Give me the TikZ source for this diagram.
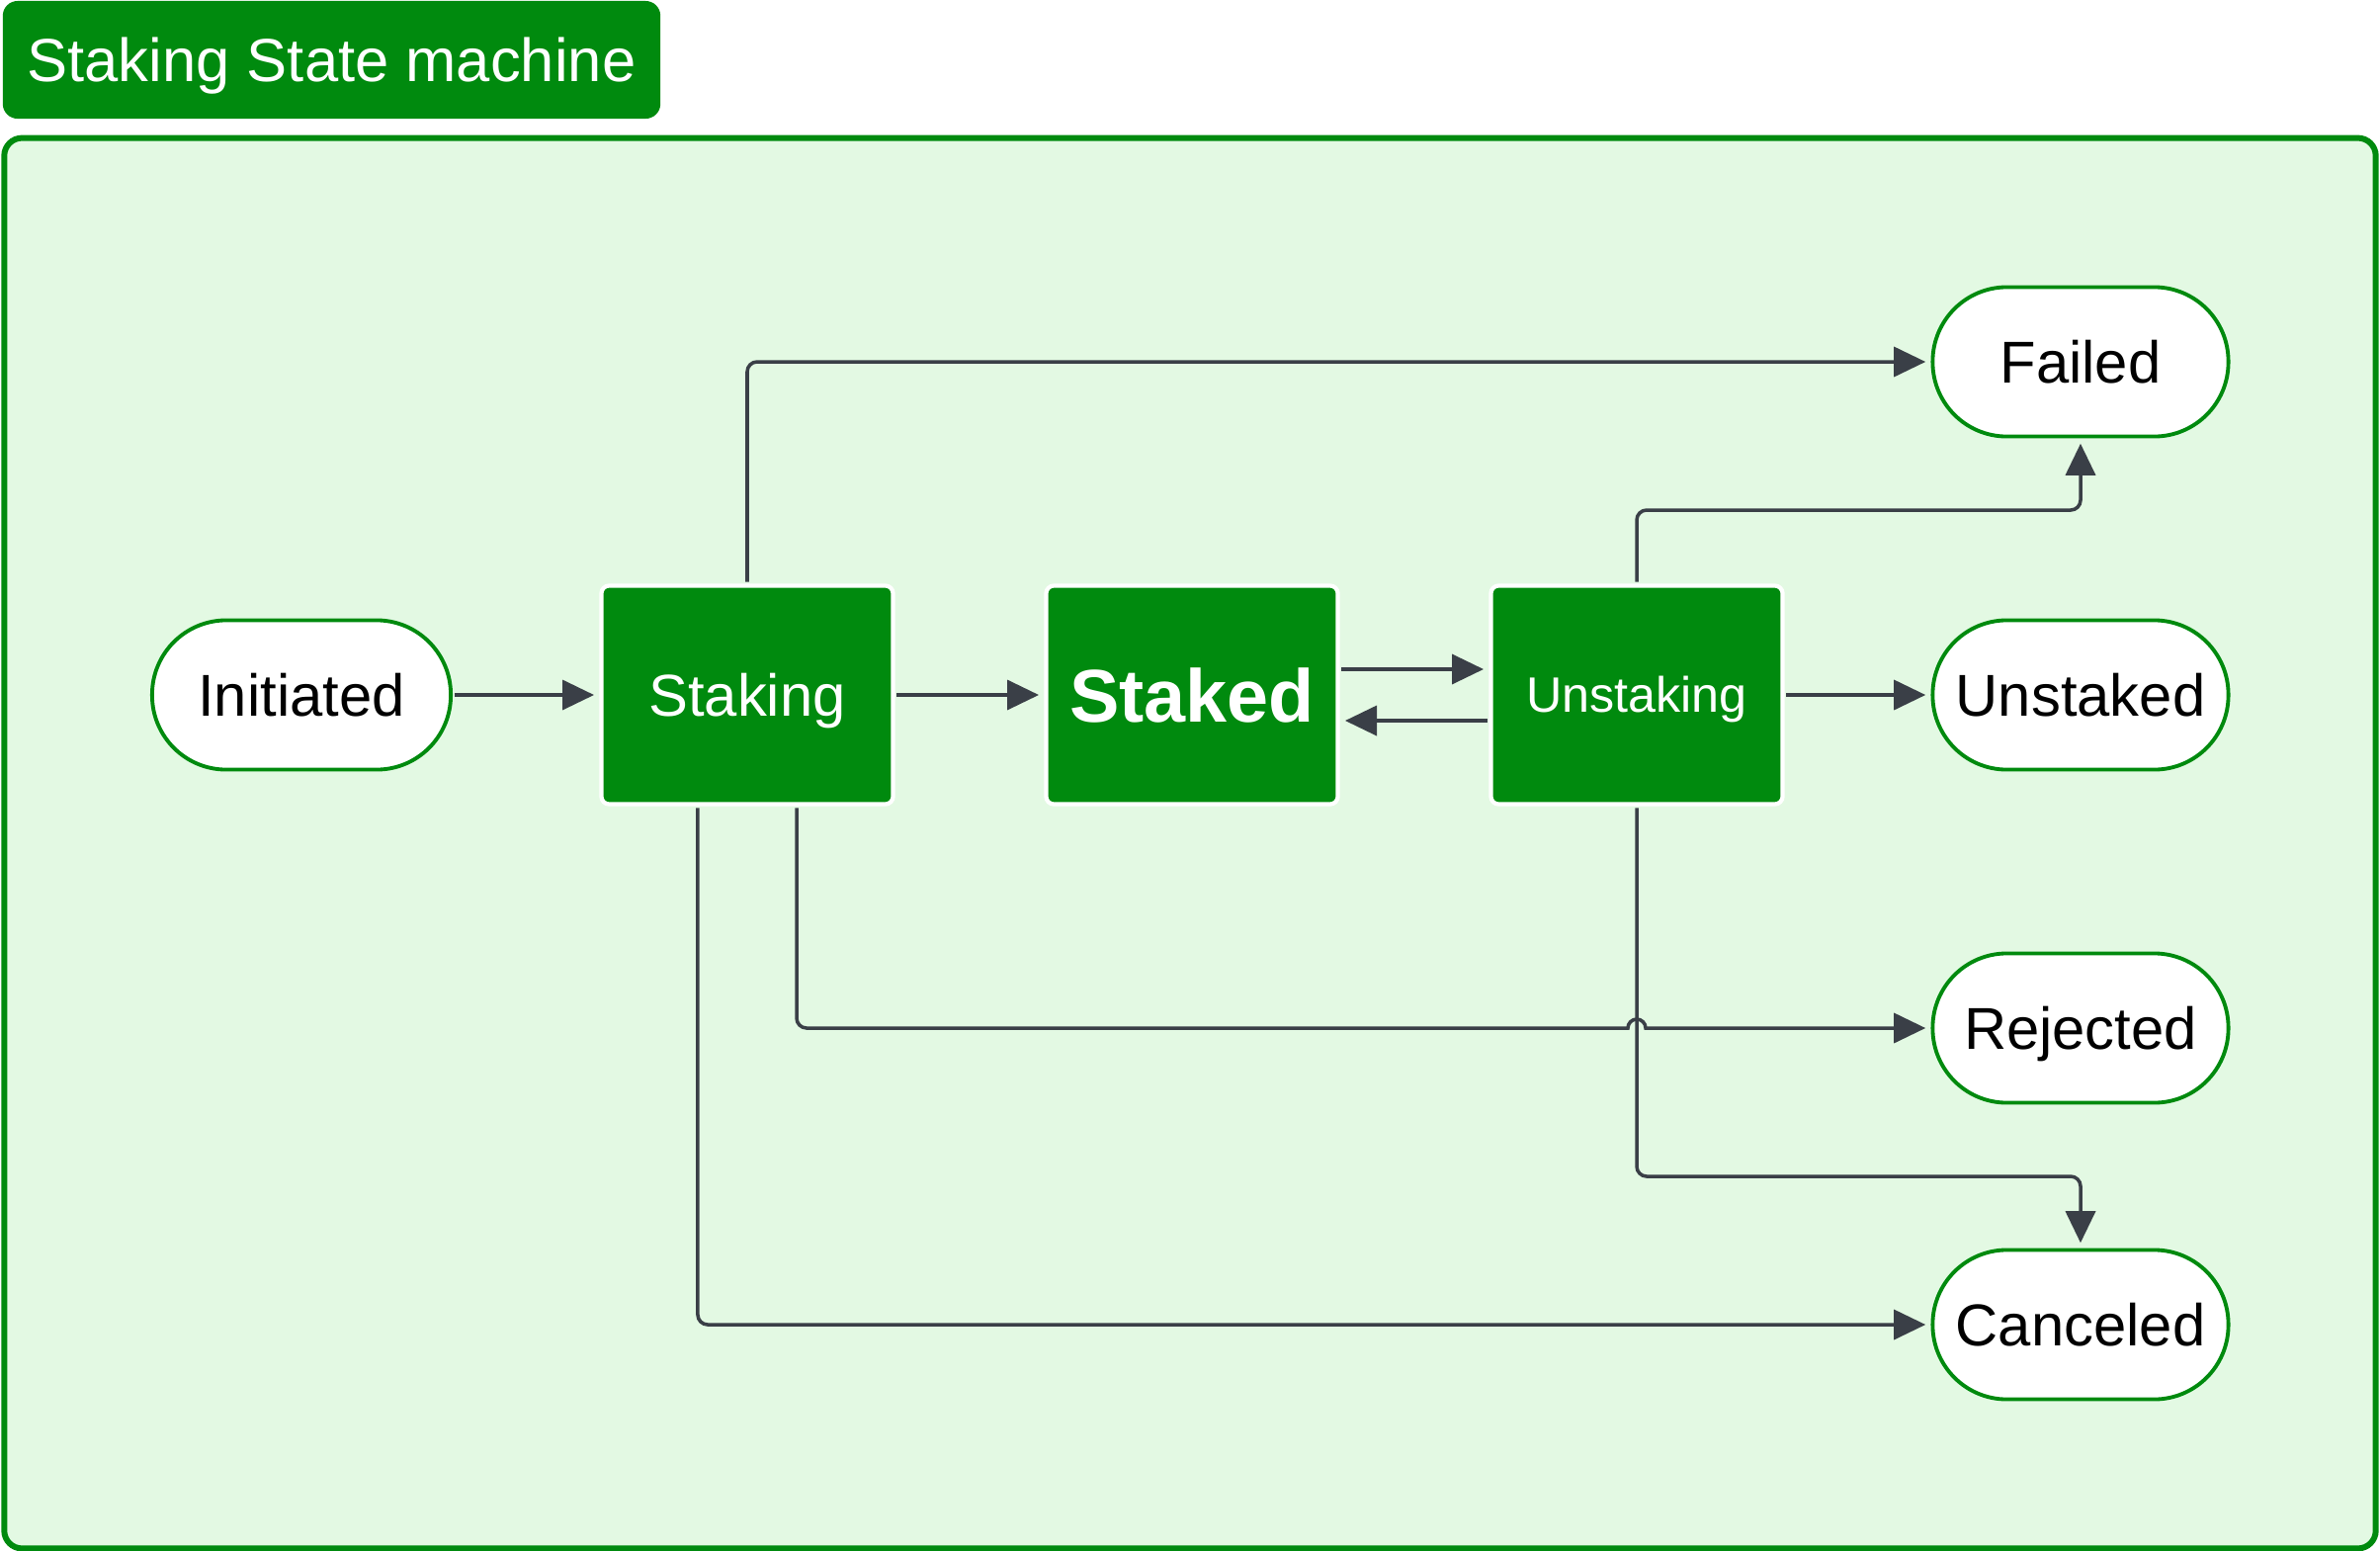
\documentclass[tikz,border=0pt]{standalone}
\usepackage{fontspec}
\setmainfont{Liberation Sans}
\usetikzlibrary{arrows.meta}
\definecolor{sgreen}{HTML}{008A0E}
\definecolor{sbg}{HTML}{E3F9E3}
\definecolor{sedge}{HTML}{3A3F47}
\begin{document}
\begin{tikzpicture}[x=0.01cm,y=-0.01cm,
 endstate/.style={draw=sgreen, line width=1.1pt, fill=white, minimum width=2.99cm, minimum height=1.51cm, rounded corners=0.75cm, inner sep=0pt, font=\fontsize{17}{20}\selectfont, text=black, text height=12.2pt, text depth=0pt},
 procbox/.style={draw=white, line width=1.2pt, fill=sgreen, minimum width=2.95cm, minimum height=2.21cm, rounded corners=0.08cm, inner sep=0pt, text=white, font=\fontsize{17}{20}\selectfont, text height=12.2pt, text depth=0pt},
 conn/.style={draw=sedge, line width=1pt, -{Triangle[length=0.32cm,width=0.3cm]}, shorten >=1.5pt, shorten <=0.5pt, rounded corners=0.1cm},
]
\useasboundingbox (0,0) rectangle (2408,1569);
% frame and title
\node[draw=sgreen, line width=1.7pt, fill=sbg, rounded corners=0.18cm, minimum width=23.98cm, minimum height=14.26cm, inner sep=0pt] (frame) at (1204,853) {};
\node[fill=sgreen, rounded corners=0.15cm, minimum width=6.65cm, minimum height=1.19cm, inner sep=0pt, text=white, font=\fontsize{17.5}{20}\selectfont, text height=12.5pt, text depth=0pt] (title) at (335.5,60.5) {Staking State machine};
% states
\node[endstate, minimum width=3.02cm] (init) at (305,703) {Initiated};
\node[procbox] (staking) at (756,703) {Staking};
\node[procbox, font=\bfseries\fontsize{21.5}{24}\selectfont, text height=15.4pt] (staked) at (1206,703) {Staked};
\node[procbox, font=\fontsize{14.3}{17}\selectfont, text height=10.2pt] (unstaking) at (1656,703) {Unstaking};
\node[endstate] (failed) at (2105,366) {Failed};
\node[endstate] (unstaked) at (2105,703) {Unstaked};
\node[endstate] (rejected) at (2105,1040) {Rejected};
\node[endstate] (canceled) at (2105,1340) {Canceled};
\coordinate (yuf) at (0,516);
\coordinate (yuc) at (0,1190);
% connectors
\draw[conn] (init.east) -- (staking.west);
\draw[conn] (staking.east) -- (staked.west);
\draw[conn] ([yshift=0.26cm]staked.east) -- ([yshift=0.26cm]unstaking.west);
\draw[conn] ([yshift=-0.26cm]unstaking.west) -- ([yshift=-0.26cm]staked.east);
\draw[conn] (unstaking.east) -- (unstaked.west);
\draw[conn] (staking.north) |- (failed.west);
\draw[conn] (unstaking.north) -- (unstaking.north |- yuf) -| (failed.south);
\draw[conn] (unstaking.south) -- (unstaking.south |- yuc) -| (canceled.north);
\draw[conn] ([xshift=-0.5cm]staking.south) |- (canceled.west);
\draw[conn] ([xshift=0.5cm]staking.south) |- ([xshift=-0.3cm]unstaking.south |- rejected.west) [sharp corners] -- ([xshift=-0.09cm]unstaking.south |- rejected.west) arc[start angle=180, end angle=360, radius=9] -- (rejected.west);
\end{tikzpicture}
\end{document}
